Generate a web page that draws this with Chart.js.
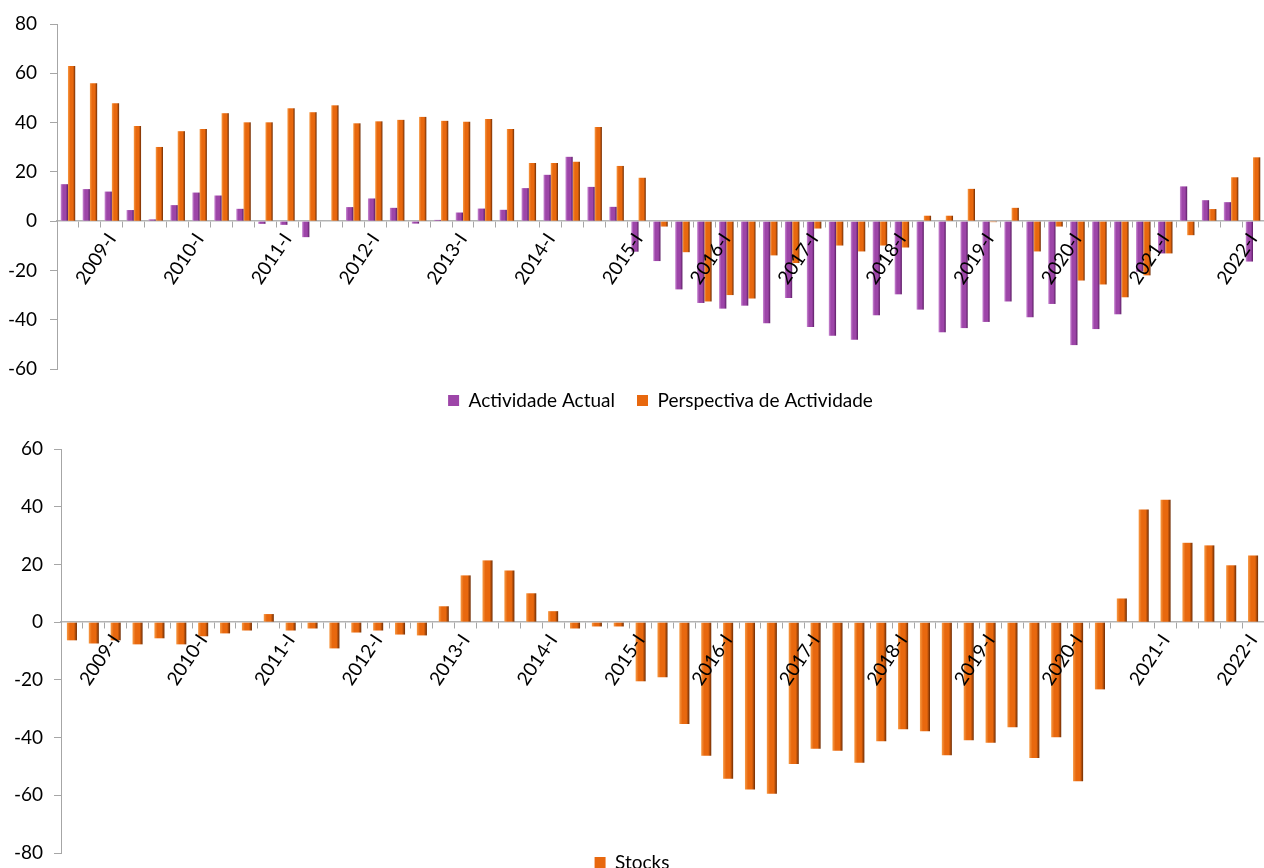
<!DOCTYPE html>
<html>
<head>
<meta charset="utf-8">
<title>Actividade e Stocks</title>
<script src="https://cdn.jsdelivr.net/npm/chart.js@4/dist/chart.umd.min.js"></script>
<style>
    body { margin: 0; background: #fff; width: 1264px; height: 868px; overflow: hidden; position: relative; }
    #topBox { position: absolute; left: 0; top: 0; width: 1264px; height: 420px; }
    #bottomBox { position: absolute; left: 0; top: 430px; width: 1264px; height: 452px; }
</style>
</head>
<body>
<div id="topBox"><canvas id="activityChart"></canvas></div>
<div id="bottomBox"><canvas id="stocksChart"></canvas></div>
<script>
// Quarters 2008-III .. 2022-I
const quarters = [
    '2008-III', '2008-IV',
    '2009-I', '2009-II', '2009-III', '2009-IV',
    '2010-I', '2010-II', '2010-III', '2010-IV',
    '2011-I', '2011-II', '2011-III', '2011-IV',
    '2012-I', '2012-II', '2012-III', '2012-IV',
    '2013-I', '2013-II', '2013-III', '2013-IV',
    '2014-I', '2014-II', '2014-III', '2014-IV',
    '2015-I', '2015-II', '2015-III', '2015-IV',
    '2016-I', '2016-II', '2016-III', '2016-IV',
    '2017-I', '2017-II', '2017-III', '2017-IV',
    '2018-I', '2018-II', '2018-III', '2018-IV',
    '2019-I', '2019-II', '2019-III', '2019-IV',
    '2020-I', '2020-II', '2020-III', '2020-IV',
    '2021-I', '2021-II', '2021-III', '2021-IV',
    '2022-I'
];

const actividadeActual = [
    15, 13,
    12, 4.5, 0.7, 6.5,
    11.6, 10.4, 5, -1.1,
    -1.5, -6.5, 0, 5.7,
    9.2, 5.4, -1, 0.5,
    3.5, 5.1, 4.6, 13.4,
    18.8, 26.1, 13.9, 5.8,
    -12.4, -16.2, -27.7, -33.2,
    -35.5, -34.3, -41.4, -31.2,
    -43, -46.5, -48.1, -38.2,
    -29.7, -35.9, -45.1, -43.4,
    -40.9, -32.6, -39, -33.6,
    -50.3, -43.8, -37.8, -20.5,
    -13.1, 14.1, 8.5, 7.7,
    -16.4
];

const perspectivaActividade = [
    63, 56,
    47.8, 38.6, 30.1, 36.5,
    37.4, 43.8, 40.1, 40.1,
    45.8, 44.2, 47, 39.7,
    40.5, 41.1, 42.3, 40.7,
    40.3, 41.5, 37.4, 23.6,
    23.6, 24.1, 38.2, 22.4,
    17.6, -2.2, -12.6, -32.6,
    -30, -31.4, -13.9, -17,
    -3, -9.9, -12.3, -9.9,
    -10.7, 2.2, 2.2, 13.1,
    -0.4, 5.4, -12.3, -2.2,
    -24.1, -25.7, -30.9, -22,
    -13.1, -5.7, 4.9, 17.8,
    25.9
];

const stocks = [
    -6.3, -7.4,
    -6.3, -7.7, -5.6, -7.7,
    -4.9, -3.9, -2.9, 2.8,
    -2.9, -2.2, -9.1, -3.6,
    -2.9, -4.3, -4.6, 5.5,
    16.2, 21.4, 17.9, 10,
    3.8, -2.2, -1.5, -1.5,
    -20.5, -19.1, -35.3, -46.3,
    -54.3, -58, -59.5, -49.2,
    -43.9, -44.6, -48.7, -41.3,
    -37.1, -37.8, -46.1, -40.9,
    -41.8, -36.4, -47.1, -39.9,
    -55.1, -23.3, 8.2, 39,
    42.4, 27.5, 26.6, 19.7,
    23.1
];

// y axis ticks
const activityTicks = [-60, -40, -20, 0, 20, 40, 60, 80];
const stocksTicks = [-80, -60, -40, -20, 0, 20, 40, 60];

// light / base / dark for the bar shading
const purpleShades = ['#c98ad2', '#9d45a8', '#5a1d63'];
const orangeShades = ['#f79a45', '#e8680e', '#6e2c04'];

Chart.defaults.font.family = 'Lato, "Open Sans", sans-serif';
Chart.defaults.font.size = 19;
Chart.defaults.color = '#000';
Chart.defaults.animation = false;

// Give every bar a left-to-right gradient, like the Excel bevel look
const barShading = {
    id: 'barShading',
    beforeDatasetsDraw(chart) {
        const ctx = chart.ctx;
        chart.data.datasets.forEach((ds, i) => {
            const shades = ds.backgroundColor === purpleShades[1] ? purpleShades : orangeShades;
            chart.getDatasetMeta(i).data.forEach(bar => {
                const x0 = bar.x - bar.width / 2;
                const x1 = bar.x + bar.width / 2;
                const g = ctx.createLinearGradient(x0, 0, x1, 0);
                g.addColorStop(0, shades[0]);
                g.addColorStop(0.3, shades[1]);
                g.addColorStop(0.7, shades[1]);
                g.addColorStop(1, shades[2]);
                bar.options = Object.assign({}, bar.options, { backgroundColor: g });
            });
        });
    }
};

// Only show the first quarter of each year on the x axis
function yearLabel(value) {
    const label = this.getLabelForValue(value);
    return label.endsWith('-I') ? label : '';
}

function xAxis() {
    return {
        position: { y: 0 },
        grid: { drawOnChartArea: false, drawTicks: true, tickLength: 6, color: '#a6a6a6', offset: true },
        border: { display: true, color: '#b3b3b3', width: 1.5 },
        // z: 1 puts the year labels over the bars, as in the original
        ticks: { autoSkip: false, minRotation: 56, maxRotation: 56, padding: 2, z: 1, callback: yearLabel },
        afterFit(scale) { scale.paddingLeft = 0; scale.paddingRight = 0; }
    };
}

function yAxis(ticks, width, pad) {
    return {
        min: ticks[0],
        max: ticks[ticks.length - 1],
        afterBuildTicks(scale) { scale.ticks = ticks.map(v => ({ value: v })); },
        grid: { drawOnChartArea: false, drawTicks: true, tickLength: 7, color: '#a6a6a6' },
        border: { display: true, color: '#a6a6a6', width: 1 },
        ticks: { padding: pad },
        afterFit(scale) { scale.width = width; scale.paddingTop = 0; scale.paddingBottom = 0; }
    };
}

// Top chart: Actividade Actual vs Perspectiva de Actividade
const activityCtx = document.getElementById('activityChart').getContext('2d');
const activityChart = new Chart(activityCtx, {
    type: 'bar',
    data: {
        labels: quarters,
        datasets: [
            {
                label: 'Actividade Actual',
                data: actividadeActual,
                backgroundColor: purpleShades[1],
                categoryPercentage: 0.66,
                barPercentage: 1.0
            },
            {
                label: 'Perspectiva de Actividade',
                data: perspectivaActividade,
                backgroundColor: orangeShades[1],
                categoryPercentage: 0.66,
                barPercentage: 1.0
            }
        ]
    },
    options: {
        responsive: true,
        maintainAspectRatio: false,
        layout: { padding: { top: 24, left: 0, right: 0, bottom: 0 } },
        plugins: {
            legend: {
                position: 'bottom',
                fullSize: false,
                labels: { boxWidth: 11, boxHeight: 11, padding: 22 }
            },
            tooltip: { enabled: false }
        },
        scales: {
            x: xAxis(),
            y: yAxis(activityTicks, 57, 13)
        }
    },
    plugins: [barShading]
});

// Bottom chart: Stocks
const stocksCtx = document.getElementById('stocksChart').getContext('2d');
const stocksChart = new Chart(stocksCtx, {
    type: 'bar',
    data: {
        labels: quarters,
        datasets: [{
            label: 'Stocks',
            data: stocks,
            backgroundColor: orangeShades[1],
            categoryPercentage: 0.46,
            barPercentage: 1.0
        }]
    },
    options: {
        responsive: true,
        maintainAspectRatio: false,
        layout: { padding: { top: 19, left: 0, right: 0, bottom: 0 } },
        plugins: {
            legend: {
                position: 'bottom',
                labels: { boxWidth: 11, boxHeight: 11, padding: 0 }
            },
            tooltip: { enabled: false }
        },
        scales: {
            x: xAxis(),
            y: yAxis(stocksTicks, 61, 11)
        }
    },
    plugins: [barShading]
});
</script>
</body>
</html>
